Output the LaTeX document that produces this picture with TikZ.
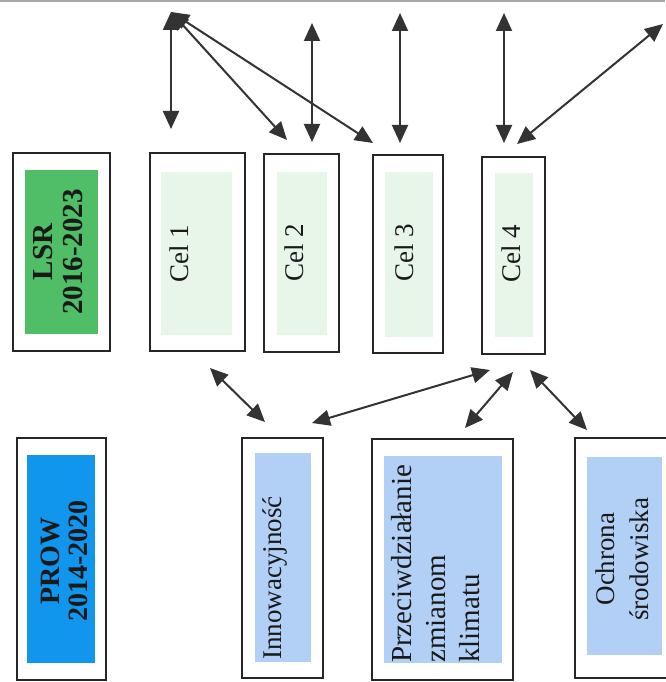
\documentclass[tikz,border=0pt]{standalone}
\usepackage{fontspec}
\setmainfont{Liberation Serif}
\usetikzlibrary{arrows.meta}
\definecolor{lsrgreen}{RGB}{80,190,102}
\definecolor{celgreen}{RGB}{231,246,233}
\definecolor{prowblue}{RGB}{16,150,236}
\definecolor{aimblue}{RGB}{178,208,245}
\begin{document}
\begin{tikzpicture}[x=1pt,y=-1pt,
 box/.style={draw=black!85,line width=1.6pt,inner sep=0pt},
 link/.style={{Triangle[length=18pt,width=16pt]}-{Triangle[length=18pt,width=16pt]},line width=2pt,black!80},
 vtxt/.style={rotate=90,inner sep=0pt,text=black!90},
 celfont/.style={font=\fontsize{27}{32}\selectfont}]
 \useasboundingbox (0,0) rectangle (665,682);
 \draw[gray!70,line width=2pt](0,1)--(665,1);
 \node[box,minimum width=97pt,minimum height=198pt] (lsr) at (61.5,252) {};
 \node[box,minimum width=95pt,minimum height=198pt] (cel1) at (197.5,252) {};
 \node[box,minimum width=75pt,minimum height=198pt] (cel2) at (301.5,253) {};
 \node[box,minimum width=70pt,minimum height=198pt] (cel3) at (408,254) {};
 \node[box,minimum width=63pt,minimum height=197pt] (cel4) at (513.5,255.5) {};
 \node[box,minimum width=89pt,minimum height=242pt] (prow) at (61.5,559) {};
 \node[box,minimum width=81pt,minimum height=240pt] (innow) at (282.5,558) {};
 \node[box,minimum width=141pt,minimum height=241pt] (klimat) at (442.5,559.5) {};
 \node[box,minimum width=93pt,minimum height=240pt] (ochr) at (621.5,558) {};
 \fill[lsrgreen](25,170) rectangle (98,334);
 \fill[celgreen](161,172) rectangle (232,335);
 \fill[celgreen](277,172) rectangle (327,335);
 \fill[celgreen](385,172) rectangle (433,337);
 \fill[celgreen](495,173) rectangle (533,337);
 \fill[prowblue](27,455) rectangle (95,663);
 \fill[aimblue](255,453) rectangle (311,662);
 \fill[aimblue](384,456) rectangle (502,663);
 \fill[aimblue](587,457) rectangle (662,655);
 \node[vtxt,align=center,font=\fontsize{29}{30}\selectfont\bfseries] (lsrtxt) at (58,252) {LSR\\2016-2023};
 \node[vtxt,celfont,anchor=base] (cel1txt) at (188,254) {Cel 1};
 \node[vtxt,celfont,anchor=base] (cel2txt) at (303,253) {Cel 2};
 \node[vtxt,celfont,anchor=base] (cel3txt) at (413,253) {Cel 3};
 \node[vtxt,celfont,anchor=base] (cel4txt) at (520,254) {Cel 4};
 \node[vtxt,align=center,font=\fontsize{28}{28}\selectfont\bfseries] (prowtxt) at (64,561) {PROW\\2014-2020};
 \node[vtxt,celfont,anchor=base west] (innowtxt) at (281,660) {Innowacyjność};
 \node[vtxt,align=left,anchor=north west,font=\fontsize{29}{34}\selectfont] (klimattxt) at (391,663) {Przeciwdziałanie\\zmianom\\klimatu};
 \node[vtxt,align=center,font=\fontsize{27}{34}\selectfont] (ochrtxt) at (622,559) {Ochrona\\środowiska};
 \coordinate (hub) at (171,12);
 \coordinate (t1) at (171,129);
 \coordinate (t2) at (287,140);
 \coordinate (t3) at (373,143);
 \coordinate (u4) at (312,23);
 \coordinate (t4) at (312,142);
 \coordinate (u5) at (400,13);
 \coordinate (t5) at (400,143);
 \coordinate (u6) at (504,13);
 \coordinate (t6) at (504,143);
 \coordinate (u7) at (663,24);
 \coordinate (t7) at (517,144);
 \coordinate (b1) at (210,368);
 \coordinate (d1) at (265,422);
 \coordinate (b2) at (490,370);
 \coordinate (d2) at (312,423);
 \coordinate (b3) at (513,372);
 \coordinate (d3) at (465,428);
 \coordinate (b4) at (530,370);
 \coordinate (d4) at (587,430);
 \draw[link](hub)--(t1);
 \draw[link](hub)--(t2);
 \draw[link](hub)--(t3);
 \draw[link](u4)--(t4);
 \draw[link](u5)--(t5);
 \draw[link](u6)--(t6);
 \draw[link](u7)--(t7);
 \draw[link](b1)--(d1);
 \draw[link](b2)--(d2);
 \draw[link](b3)--(d3);
 \draw[link](b4)--(d4);
\end{tikzpicture}
\end{document}
